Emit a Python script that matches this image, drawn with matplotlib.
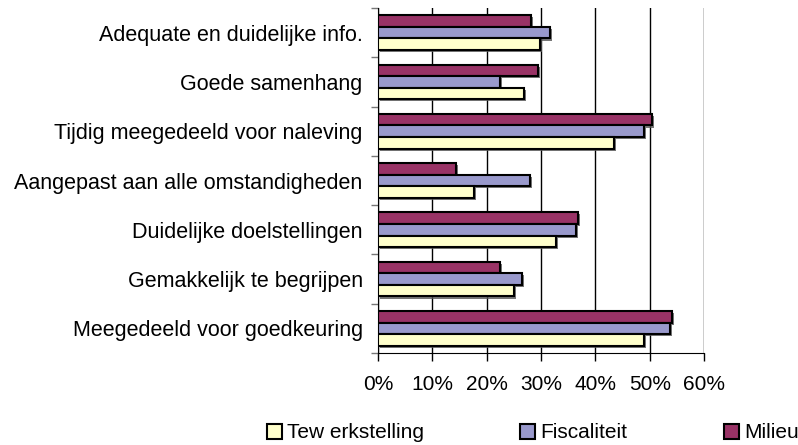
import matplotlib
matplotlib.use("Agg")
import matplotlib.pyplot as plt
import matplotlib.patheffects as pe
from matplotlib.patches import Patch
import numpy as np

plt.rcParams['font.family'] = ['Liberation Sans', 'DejaVu Sans']

categories = [
    "Adequate en duidelijke info.",
    "Goede samenhang",
    "Tijdig meegedeeld voor naleving",
    "Aangepast aan alle omstandigheden",
    "Duidelijke doelstellingen",
    "Gemakkelijk te begrijpen",
    "Meegedeeld voor goedkeuring",
]
series_names = ["Tew erkstelling", "Fiscaliteit", "Milieu"]
tew = [29.8, 26.8, 43.5, 17.6, 32.7, 25.0, 48.9]
fisc = [31.7, 22.4, 48.9, 28.0, 36.4, 26.5, 53.7]
milieu = [28.1, 29.5, 50.5, 14.3, 36.8, 22.4, 54.1]
xticks = [0, 10, 20, 30, 40, 50, 60]
colors = ["#FFFFCC", "#9999CC", "#993366"]

fig = plt.figure(figsize=(7.98, 4.45), dpi=100)
ax = fig.add_axes([378/798, 1-353/445, (704-378)/798, (353-8)/445])

n = len(categories)
centers = np.arange(n)[::-1] + 0.5  # first category at top
h = 0.235
shadow = [pe.SimplePatchShadow(offset=(1.5, -1.5), shadow_rgbFace='#555555', alpha=0.8), pe.Normal()]
for vals, off, c in [(milieu, h, colors[2]), (fisc, 0, colors[1]), (tew, -h, colors[0])]:
    bars = ax.barh(centers + off, vals, height=h, color=c, edgecolor='black', linewidth=1.5, zorder=3)
    for b in bars:
        b.set_path_effects(shadow)

ax.set_xlim(0, 60)
ax.set_ylim(0, n)
ax.set_xticks(xticks)
ax.set_xticklabels([f"{t}%" for t in xticks], fontsize=15)
ax.xaxis.grid(True, color='black', linewidth=1, zorder=0)
ax.set_axisbelow(True)

ax.set_yticks(np.arange(n + 1))
ax.set_yticklabels([])
ax.tick_params(axis='y', which='major', length=5, color='#777777', width=1)
ax.set_yticks(centers, minor=True)
ax.set_yticklabels(categories, minor=True, fontsize=15.5)
ax.tick_params(axis='y', which='minor', length=0, pad=11)
ax.tick_params(axis='x', length=6, width=1, color='black', pad=10)

for s in ['top', 'right']:
    ax.spines[s].set_visible(False)
ax.spines['left'].set_color('black')
ax.spines['bottom'].set_color('black')

legend_pos = [(424, 'center right'), (520, 'center left'), (724, 'center left')]
for name, c, (lx, loc) in zip(series_names, colors, legend_pos):
    hnd = Patch(facecolor=c, edgecolor='black', linewidth=1.5)
    fig.legend([hnd], [name], loc=loc, bbox_to_anchor=(lx/798, 1-433/445),
               frameon=False, fontsize=15, handlelength=0.7, handleheight=0.7,
               handletextpad=0.25, borderaxespad=0, borderpad=0)

fig.savefig("out.png", dpi=100)
